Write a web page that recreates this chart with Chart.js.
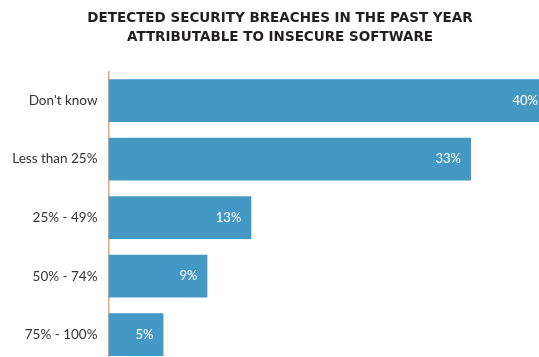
<!DOCTYPE html>
<html>
<head>
<meta charset="utf-8">
<script src="https://cdn.jsdelivr.net/npm/chart.js@4/dist/chart.umd.min.js"></script>
<style>
  html, body { margin: 0; padding: 0; background: #fff; overflow: hidden; }
  #wrap { position: absolute; left: 0; top: 0; width: 560px; height: 364px; }
</style>
</head>
<body>
<div id="wrap"><canvas id="chart"></canvas></div>
<script>
// answer buckets and share of respondents (%)
const categories = ["Don't know", "Less than 25%", "25% - 49%", "50% - 74%", "75% - 100%"];
const shares = [40, 33, 13, 9, 5];
const titleLines = ["DETECTED SECURITY BREACHES IN THE PAST YEAR", "ATTRIBUTABLE TO INSECURE SOFTWARE"];

const BAR_BLUE = "#4499c4";
const AXIS_ORANGE = "#eaa27e";

/* Writes the value at the inner end of each bar */
const barValueLabels = {
    id: "barValueLabels",
    afterDatasetsDraw(chart) {
        const ctx = chart.ctx;
        const meta = chart.getDatasetMeta(0);
        ctx.save();
        ctx.font = "13px Lato, sans-serif";
        ctx.fillStyle = "#ffffff";
        ctx.textAlign = "right";
        ctx.textBaseline = "middle";
        meta.data.forEach((bar, i) => {
            ctx.fillText(shares[i] + "%", bar.x - 10, bar.y);
        });
        ctx.restore();
    }
};

new Chart(document.getElementById("chart"), {
    type: "bar",
    data: {
        labels: categories,
        datasets: [{
            data: shares,
            backgroundColor: BAR_BLUE,
            borderWidth: 0,
            categoryPercentage: 1,
            barPercentage: 0.73
        }]
    },
    options: {
        indexAxis: "y",
        responsive: true,
        maintainAspectRatio: false,
        devicePixelRatio: 1,
        animation: false,
        layout: { padding: 0 },
        plugins: {
            legend: { display: false },
            tooltip: { enabled: false },
            title: {
                display: true,
                text: titleLines,
                color: "#231f20",
                font: { family: "'DejaVu Sans', sans-serif", size: 13.5, weight: "bold", lineHeight: 19 / 13.5 },
                padding: { top: 8.5, bottom: 24.75 }
            }
        },
        scales: {
            x: {
                display: false,
                min: 0,
                max: 41.1
            },
            y: {
                grid: { display: false, drawTicks: false },
                border: { display: true, color: AXIS_ORANGE, width: 1.5 },
                ticks: {
                    color: "#333",
                    padding: 11,
                    font: { family: "Lato, sans-serif", size: 13.5 }
                },
                afterFit(scale) {
                    // fixed gutter for the labels, and no extra room above/below the bars
                    scale.width = 108.5;
                    scale.paddingTop = 0;
                    scale.paddingBottom = 0;
                }
            }
        }
    },
    plugins: [barValueLabels]
});
</script>
</body>
</html>
